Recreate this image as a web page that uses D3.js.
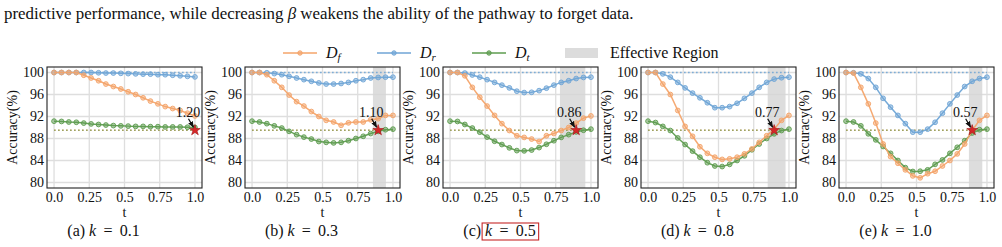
<!DOCTYPE html>
<html>
<head>
<meta charset="utf-8">
<script src="https://cdn.jsdelivr.net/npm/d3@7"></script>
<style>
  body { margin: 0; background: #fff; }
  svg { display: block; font-family: "Liberation Serif", "Times New Roman", serif; }
</style>
</head>
<body>
<div class="chart"></div>
<script>
// t grid (20 points between 0 and 1)
const tValues = [0.000, 0.053, 0.105, 0.158, 0.211, 0.263, 0.316, 0.368, 0.421, 0.474,
                 0.526, 0.579, 0.632, 0.684, 0.737, 0.789, 0.842, 0.895, 0.947, 1.000];

const kLabels = ["0.1", "0.3", "0.5", "0.8", "1.0"];
const panelLetters = ["a", "b", "c", "d", "e"];

// D_f accuracy, one row per k
const dfValues = [
  [100, 100, 100, 100, 99.5, 99.0, 98.5, 97.9, 97.45, 97.0, 96.5, 96.0, 95.4, 94.8, 94.3, 93.8, 93.45, 93.1, 92.6, 92.1],
  [100, 100, 99.6, 98.5, 97.3, 95.9, 94.7, 93.9, 92.9, 92.0, 91.3, 91.0, 90.4, 90.85, 91.0, 91.0, 91.4, 91.6, 92.2, 92.2],
  [100, 100, 99.4, 97.3, 95.5, 93.9, 92.2, 90.7, 89.45, 88.5, 88.2, 87.9, 87.45, 88.5, 88.9, 89.45, 90.0, 90.8, 91.7, 92.1],
  [100, 100, 97.9, 96.0, 93.1, 90.2, 88.4, 86.5, 85.3, 84.6, 84.2, 84.3, 84.6, 85.2, 86.1, 87.3, 88.5, 89.7, 91.3, 92.2],
  [100, 99.9, 97.3, 94.3, 90.8, 87.0, 84.7, 83.5, 82.3, 81.2, 80.85, 81.6, 82.05, 83.0, 84.0, 85.2, 87.0, 89.45, 91.3, 92.2]
];

// D_r accuracy
const drValues = [
  [100, 100, 100, 100, 100, 100, 99.95, 99.9, 99.9, 99.85, 99.8, 99.75, 99.7, 99.7, 99.6, 99.6, 99.5, 99.4, 99.3, 99.2],
  [100, 100, 99.95, 99.8, 99.6, 99.3, 99.0, 98.7, 98.4, 98.1, 97.9, 97.9, 98.0, 98.2, 98.5, 98.7, 99.0, 99.1, 99.15, 99.15],
  [100, 100, 99.9, 99.55, 99.15, 98.7, 98.2, 97.7, 97.2, 96.6, 96.35, 96.4, 96.7, 97.15, 97.7, 98.2, 98.5, 98.9, 99.1, 99.15],
  [100, 100, 99.75, 99.15, 98.2, 97.2, 96.25, 95.4, 94.5, 93.6, 93.6, 93.8, 94.4, 95.3, 96.25, 97.3, 98.2, 98.8, 99.05, 99.15],
  [100, 99.95, 99.75, 98.9, 97.3, 95.3, 93.7, 92.2, 90.7, 89.15, 89.15, 89.7, 90.95, 92.6, 94.3, 95.9, 97.45, 98.4, 98.9, 99.15]
];

// D_t accuracy
const dtValues = [
  [91.15, 91.1, 91.0, 90.95, 90.8, 90.65, 90.55, 90.45, 90.35, 90.3, 90.25, 90.2, 90.2, 90.15, 90.15, 90.1, 90.1, 90.1, 90.05, 90.0],
  [91.15, 91.0, 90.7, 90.3, 89.9, 89.3, 88.7, 88.25, 87.9, 87.45, 87.3, 87.2, 87.3, 87.6, 88.0, 88.4, 88.9, 89.3, 89.6, 89.7],
  [91.15, 91.1, 90.55, 89.9, 89.15, 88.25, 87.5, 86.9, 86.3, 85.8, 85.75, 85.9, 86.35, 86.95, 87.6, 88.2, 88.7, 89.2, 89.5, 89.7],
  [91.15, 90.9, 90.2, 89.45, 88.1, 86.9, 85.7, 84.6, 83.6, 83.0, 82.9, 83.3, 84.0, 84.85, 85.95, 87.0, 88.0, 88.85, 89.45, 89.7],
  [91.15, 91.0, 90.3, 88.85, 87.75, 86.55, 85.3, 84.0, 82.7, 82.0, 82.05, 82.3, 83.3, 84.1, 85.3, 86.4, 87.6, 89.0, 89.6, 89.7]
];

// retrain reference levels (dotted lines)
const refDf = 89.5;
const refDr = 100;
const refDt = 89.5;

// chosen t (star) and its annotation
const starT = [1.0, 0.895, 0.895, 0.895, 0.895];
const starLabels = ["1.20", "1.10", "0.86", "0.77", "0.57"];

// effective region per panel
const effRegions = [null, [0.858, 0.95], [0.78, 0.96], [0.849, 0.976], [0.872, 0.967]];

const xTicks = [0, 0.25, 0.5, 0.75, 1.0];
const xTickLabels = ["0.0", "0.25", "0.5", "0.75", "1.0"];
const yTicks = [80, 84, 88, 92, 96, 100];

const highlightPanel = 2;

const colors = { df: "#f4a46a", dr: "#6fa5d6", dt: "#5e9c4f" };

const W = 1002, H = 247;

var svg = d3.select(".chart").append("svg")
  .attr("width", W)
  .attr("height", H);

// arrow head
svg.append("defs").append("marker")
  .attr("id", "arrow")
  .attr("viewBox", "0 0 10 10")
  .attr("refX", 9).attr("refY", 5)
  .attr("markerWidth", 5).attr("markerHeight", 5)
  .attr("orient", "auto")
  .append("path")
  .attr("d", "M0,1 L10,5 L0,9 z")
  .attr("fill", "#111");

// text line above the figure
var topText = svg.append("text")
  .attr("x", 4).attr("y", 19)
  .attr("font-size", 16.9)
  .attr("fill", "#111");
topText.append("tspan").text("predictive performance, while decreasing\u00a0");
topText.append("tspan").attr("font-style", "italic").text("β");
topText.append("tspan").text("\u00a0weakens the ability of the pathway to forget data.");

// legend
var legend = svg.append("g").attr("transform", "translate(0,53)");
const legendItems = [
  { key: "df", x: 283, sub: "f" },
  { key: "dr", x: 377, sub: "r" },
  { key: "dt", x: 472, sub: "t" }
];
legendItems.forEach(function(it) {
  legend.append("line")
    .attr("x1", it.x).attr("x2", it.x + 34)
    .attr("y1", 0).attr("y2", 0)
    .attr("stroke", colors[it.key]).attr("stroke-width", 1.6);
  legend.append("circle")
    .attr("cx", it.x + 17).attr("cy", 0).attr("r", 2.2)
    .attr("fill", colors[it.key]).attr("fill-opacity", 0.6)
    .attr("stroke", colors[it.key]);
  var lt = legend.append("text")
    .attr("x", it.x + 43).attr("y", 5)
    .attr("font-size", 16).attr("font-style", "italic").attr("fill", "#111");
  lt.append("tspan").text("D");
  lt.append("tspan").attr("font-size", 11).attr("dy", 3).text(it.sub);
});
legend.append("rect")
  .attr("x", 565).attr("y", -5).attr("width", 33).attr("height", 10)
  .attr("fill", "#dcdcdc");
legend.append("text")
  .attr("x", 610).attr("y", 5)
  .attr("font-size", 16).attr("fill", "#111")
  .text("Effective Region");

// panels
const plotW = 155, plotTop = 67, plotH = 121;

kLabels.forEach(function(k, p) {
  const left = 47 + p * 198;
  var g = svg.append("g").attr("transform", "translate(" + left + "," + plotTop + ")");

  var xScale = d3.scaleLinear().domain([-0.05, 1.05]).range([0, plotW]);
  var yScale = d3.scaleLinear().domain([79, 101]).range([plotH, 0]);

  // grid
  g.selectAll(".gx").data(xTicks).enter().append("line")
    .attr("x1", d => xScale(d)).attr("x2", d => xScale(d))
    .attr("y1", 0).attr("y2", plotH)
    .attr("stroke", "#dedede").attr("stroke-width", 1.3);
  g.selectAll(".gy").data(yTicks).enter().append("line")
    .attr("x1", 0).attr("x2", plotW)
    .attr("y1", d => yScale(d)).attr("y2", d => yScale(d))
    .attr("stroke", "#dedede").attr("stroke-width", 1.3);

  // effective region
  if (effRegions[p]) {
    g.append("rect")
      .attr("x", xScale(effRegions[p][0]))
      .attr("width", xScale(effRegions[p][1]) - xScale(effRegions[p][0]))
      .attr("y", 0).attr("height", plotH)
      .attr("fill", "#d4d4d4").attr("fill-opacity", 0.8);
  }

  // reference lines
  function refLine(v, c, op) {
    g.append("line")
      .attr("x1", xScale(0)).attr("x2", xScale(1))
      .attr("y1", yScale(v)).attr("y2", yScale(v))
      .attr("stroke", c).attr("stroke-width", 1.6)
      .attr("stroke-dasharray", "1.6,2.4")
      .attr("stroke-opacity", op);
  }
  refLine(refDr, colors.dr, 0.9);
  refLine(refDf, colors.df, 0.9);
  refLine(refDt, colors.dt, 0.6);

  // series
  var line = d3.line()
    .x((d, i) => xScale(tValues[i]))
    .y(d => yScale(d));

  [["dr", drValues], ["dt", dtValues], ["df", dfValues]].forEach(function(s) {
    var c = colors[s[0]];
    var vals = s[1][p];
    g.append("path")
      .datum(vals)
      .attr("d", line)
      .attr("fill", "none")
      .attr("stroke", c).attr("stroke-width", 1.5)
      .attr("stroke-opacity", 0.95);
    g.selectAll(".dot-" + s[0]).data(vals).enter().append("circle")
      .attr("cx", (d, i) => xScale(tValues[i]))
      .attr("cy", d => yScale(d))
      .attr("r", 2.4)
      .attr("fill", c).attr("fill-opacity", 0.5)
      .attr("stroke", c).attr("stroke-width", 0.9);
  });

  // star + annotation
  var sx = xScale(starT[p]), sy = yScale(refDt);
  g.append("line")
    .attr("x1", sx - 6.5).attr("y1", sy - 11.5)
    .attr("x2", sx - 1.5).attr("y2", sy - 3)
    .attr("stroke", "#111").attr("stroke-width", 1.3)
    .attr("marker-end", "url(#arrow)");
  g.append("path")
    .attr("d", d3.symbol().type(d3.symbolStar).size(36)())
    .attr("transform", "translate(" + sx + "," + sy + ")")
    .attr("fill", "#d62728").attr("stroke", "#a01818").attr("stroke-width", 0.6);
  g.append("text")
    .attr("x", sx - 7).attr("y", sy - 13.5)
    .attr("text-anchor", "middle")
    .attr("font-size", 14).attr("fill", "#111")
    .text(starLabels[p]);

  // frame
  g.append("rect")
    .attr("x", 0).attr("y", 0).attr("width", plotW).attr("height", plotH)
    .attr("fill", "none").attr("stroke", "#222").attr("stroke-width", 1.1);

  // axes
  var xAxis = d3.axisBottom(xScale).tickValues(xTicks)
    .tickFormat((d, i) => xTickLabels[i]).tickSize(0).tickPadding(4);
  var yAxis = d3.axisLeft(yScale).tickValues(yTicks).tickSize(0).tickPadding(3);

  g.append("g").attr("transform", "translate(0," + plotH + ")").call(xAxis)
    .call(a => a.select(".domain").remove())
    .selectAll("text").attr("font-size", 14).attr("fill", "#111")
    .attr("font-family", "Liberation Serif, serif");
  g.append("g").call(yAxis)
    .call(a => a.select(".domain").remove())
    .selectAll("text").attr("font-size", 14).attr("fill", "#111")
    .attr("font-family", "Liberation Serif, serif");

  g.append("text")
    .attr("x", plotW / 2).attr("y", plotH + 29)
    .attr("text-anchor", "middle")
    .attr("font-size", 14).attr("fill", "#111")
    .text("t");

  g.append("text")
    .attr("transform", "translate(-30," + (plotH / 2) + ") rotate(-90)")
    .attr("text-anchor", "middle")
    .attr("font-size", 14).attr("fill", "#111")
    .text("Accuracy(%)");

  // caption
  var cap = svg.append("g");
  var pre = cap.append("text").attr("x", 0).attr("y", 0)
    .attr("font-size", 16).attr("fill", "#111")
    .text("(" + panelLetters[p] + ")\u00a0");
  var preW = pre.node().getComputedTextLength();
  var math = cap.append("text").attr("x", preW).attr("y", 0)
    .attr("font-size", 16).attr("fill", "#111");
  math.append("tspan").attr("font-style", "italic").text("k");
  math.append("tspan").text("\u00a0\u2009=\u00a0\u2009" + k);
  var mathW = math.node().getComputedTextLength();
  if (p === highlightPanel) {
    cap.append("rect")
      .attr("x", preW - 3).attr("y", -13)
      .attr("width", mathW + 6).attr("height", 17)
      .attr("fill", "none").attr("stroke", "#c62828").attr("stroke-width", 1.1);
  }
  var totalW = preW + mathW;
  cap.attr("transform", "translate(" + (left + 56.5 - totalW / 2) + ",236)");
});
</script>
</body>
</html>
